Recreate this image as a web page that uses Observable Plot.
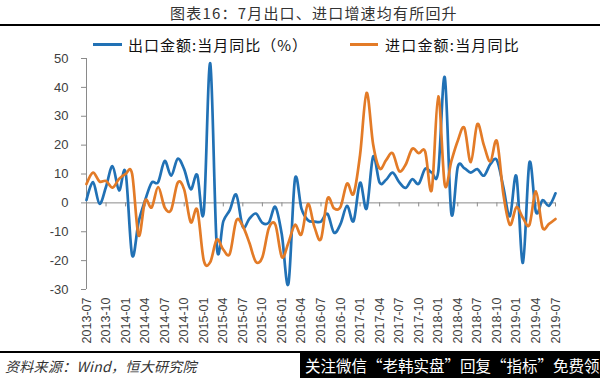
<!DOCTYPE html>
<html>
<head>
<meta charset="utf-8">
<script src="https://cdn.jsdelivr.net/npm/d3@7"></script>
<script src="https://cdn.jsdelivr.net/npm/@observablehq/plot@0.6"></script>
<style>
  html, body { margin: 0; padding: 0; background: #fff; }
  #root { position: relative; width: 600px; height: 378px; background: #fff; overflow: hidden;
          font-family: "Noto Sans CJK SC", "Noto Sans", sans-serif; }
  .abs { position: absolute; white-space: nowrap; }
</style>
</head>
<body>
<div id="root">
  <div class="abs" id="title" style="left:170px;top:3px;font-size:15px;line-height:20px;color:#333;letter-spacing:1.2px;">图表16：7月出口、进口增速均有所回升</div>
  <div class="abs" style="left:0;top:24px;width:600px;height:2px;background:#000;"></div>
  <div class="abs" id="leg1line" style="left:93px;top:43px;width:29px;height:3px;"></div>
  <div class="abs" style="left:128px;top:35px;font-size:15px;line-height:20px;color:#111;letter-spacing:1px;">出口金额:当月同比（%）</div>
  <div class="abs" id="leg2line" style="left:350px;top:43px;width:28px;height:3px;"></div>
  <div class="abs" style="left:385px;top:35px;font-size:15px;line-height:20px;color:#111;letter-spacing:1.2px;">进口金额:当月同比</div>
  <div class="abs" id="chart" style="left:0;top:52px;"></div>
  <div class="abs" style="left:0;top:351px;width:600px;height:2px;background:#000;"></div>
  <div class="abs" style="left:5px;top:356px;font-size:14px;line-height:20px;color:#333;font-style:italic;letter-spacing:0.3px;">资料来源：Wind，恒大研究院</div>
  <div class="abs" style="left:300px;top:352px;width:300px;height:26px;background:#000;color:#fff;font-size:15.5px;line-height:26px;padding-left:5px;box-sizing:border-box;overflow:hidden;">关注微信“老韩实盘”回复“指标”免费领</div>
</div>
<script>
// Monthly categories 2013-07 .. 2019-07
const startYear = 2013, startMonth = 7, monthCount = 73;
const months = [];
for (let k = 0; k < monthCount; k++) {
  const m0 = startMonth - 1 + k;
  const y = startYear + Math.floor(m0 / 12);
  const m = (m0 % 12) + 1;
  months.push(y + "-" + String(m).padStart(2, "0"));
}

// 出口金额:当月同比 (%)
const exportsYoY = [
  1.0, 7.2, -0.3, 5.6, 12.7, 4.3,
  10.6, -18.1, -6.6, 0.9, 7.0, 7.2, 14.5, 9.4, 15.3, 11.6, 4.7, 9.7,
  -3.3, 48.3, -15.0, -6.4, -2.5, 2.8, -8.3, -5.5, -3.7, -6.9, -6.8, -1.4,
  -11.2, -28.0, 8.2, -2.0, -6.0, -6.5, -6.5, -3.8, -10.3, -7.3, -1.0, -6.3,
  7.0, -2.0, 16.0, 7.0, 8.0, 10.5, 7.2, 5.2, 8.2, 6.6, 11.8, 10.5,
  10.8, 43.5, -3.5, 12.5, 12.0, 10.5, 11.7, 9.4, 13.4, 14.8, 5.4, -4.6,
  9.2, -20.8, 14.0, -3.2, 0.9, -1.0, 3.3
];

// 进口金额:当月同比 (%)
const importsYoY = [
  6.5, 10.5, 7.4, 7.6, 5.3, 8.3,
  10.0, 10.1, -11.3, 0.8, -1.6, 5.5, -1.6, -2.4, 7.0, 4.6, -6.7, -2.4,
  -19.9, -20.5, -12.7, -16.2, -17.6, -6.1, -8.1, -13.8, -20.4, -18.8, -8.7, -7.6,
  -18.8, -13.8, -7.6, -10.9, -0.4, -8.4, -12.5, 1.5, -1.9, -1.4, 6.7, 3.1,
  16.7, 38.1, 20.3, 11.9, 14.8, 17.2, 11.0, 13.3, 18.7, 17.2, 17.7, 4.5,
  36.9, 6.3, 14.4, 21.5, 26.0, 14.1, 27.3, 20.0, 14.3, 21.4, 3.0, -7.6,
  -1.5, -5.2, -7.6, 4.0, -8.5, -7.3, -5.6
];

const tickLabels = [
  "2013-07","2013-10","2014-01","2014-04","2014-07","2014-10",
  "2015-01","2015-04","2015-07","2015-10","2016-01","2016-04",
  "2016-07","2016-10","2017-01","2017-04","2017-07","2017-10",
  "2018-01","2018-04","2018-07","2018-10","2019-01","2019-04","2019-07"
];
const yTicks = [-30, -20, -10, 0, 10, 20, 30, 40, 50];

const blue = "#2171B5";
const orange = "#E37B27";
const axisGray = "#8a8a8a";

document.getElementById("leg1line").style.background = blue;
document.getElementById("leg2line").style.background = orange;

const data = months.map((m, i) => ({i, month: m, exp: exportsYoY[i], imp: importsYoY[i]}));
const tickIdx = tickLabels.map(t => months.indexOf(t));

const chart = Plot.plot({
  width: 600,
  height: 296,
  marginTop: 6,
  marginBottom: 59,
  marginLeft: 86,
  marginRight: 45,
  style: {fontFamily: "'Liberation Sans', Arial, sans-serif", fontSize: "12.5px", color: "#404040", background: "transparent", overflow: "visible"},
  x: {type: "linear", domain: [0, months.length - 1]},
  y: {domain: [-30, 50]},
  marks: [
    Plot.ruleY([0], {stroke: axisGray, strokeWidth: 1}),
    Plot.ruleX(tickIdx, {x: d => d, y1: 0, y2: -1.4, stroke: axisGray, strokeWidth: 1}),
    Plot.ruleX([0], {stroke: axisGray, strokeWidth: 1}),
    Plot.axisY({ticks: yTicks, tickSize: 5, tickPadding: 13, stroke: axisGray, label: null, tickFormat: d => String(d), fontSize: 13}),
    Plot.axisX({ticks: tickIdx, tickSize: 0, tickPadding: 8, tickRotate: -90, label: null, tickFormat: i => months[i], fontSize: 12.5}),
    Plot.line(data, {x: "i", y: "exp", stroke: blue, strokeWidth: 2.7, curve: "cardinal"}),
    Plot.line(data, {x: "i", y: "imp", stroke: orange, strokeWidth: 2.7, curve: "cardinal"})
  ]
});
document.getElementById("chart").appendChild(chart);
</script>
</body>
</html>
